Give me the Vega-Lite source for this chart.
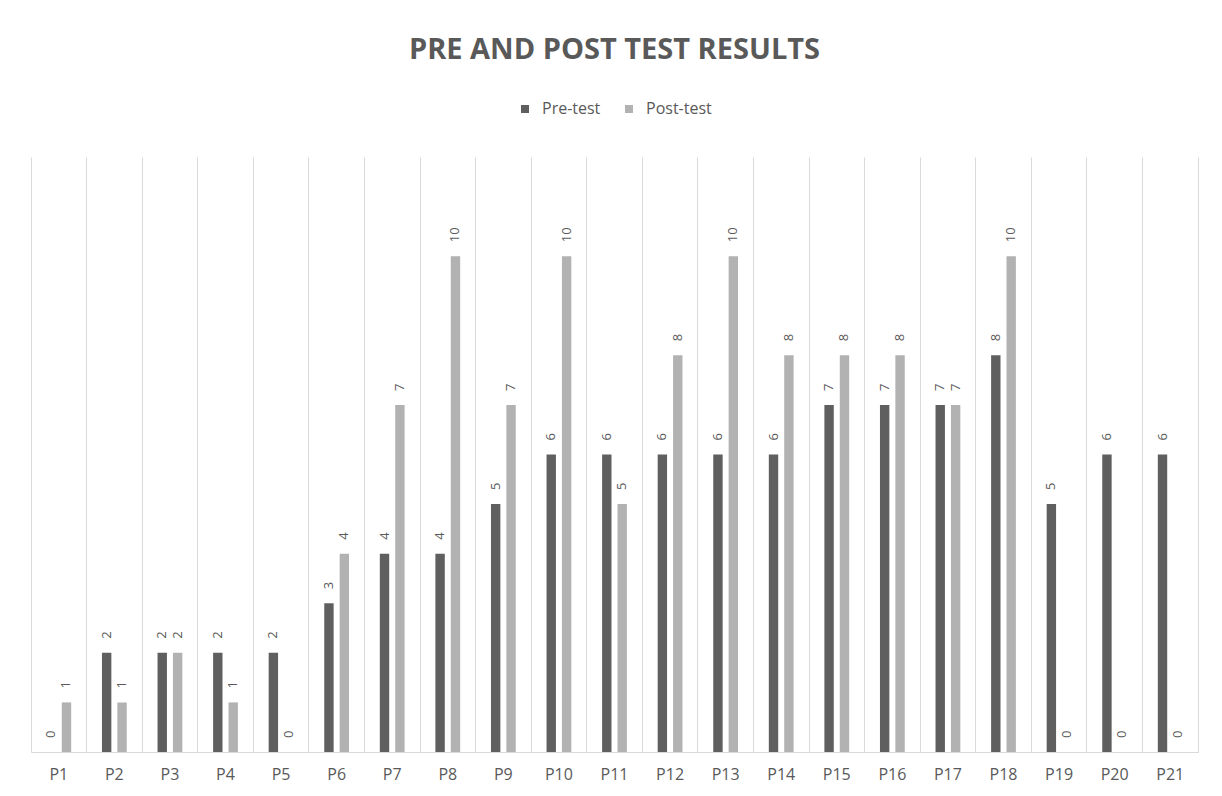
{
  "$schema": "https://vega.github.io/schema/vega-lite/v6.json",
  "width": 1167,
  "height": 595,
  "autosize": {"type": "none"},
  "padding": {"left": 31, "top": 157, "right": 24, "bottom": 44},
  "background": "white",
  "title": {
    "text": "PRE AND POST TEST RESULTS",
    "fontSize": 29,
    "font": "Open Sans",
    "fontWeight": "bold",
    "color": "#595959",
    "anchor": "middle",
    "offset": 36
  },
  "config": {
    "view": {"stroke": null},
    "legend": {"layout": {"top": {"anchor": "middle"}}}
  },
  "data": {
    "values": [
      {"p": "P1", "test": "Pre-test", "score": 0}, {"p": "P1", "test": "Post-test", "score": 1},
      {"p": "P2", "test": "Pre-test", "score": 2}, {"p": "P2", "test": "Post-test", "score": 1},
      {"p": "P3", "test": "Pre-test", "score": 2}, {"p": "P3", "test": "Post-test", "score": 2},
      {"p": "P4", "test": "Pre-test", "score": 2}, {"p": "P4", "test": "Post-test", "score": 1},
      {"p": "P5", "test": "Pre-test", "score": 2}, {"p": "P5", "test": "Post-test", "score": 0},
      {"p": "P6", "test": "Pre-test", "score": 3}, {"p": "P6", "test": "Post-test", "score": 4},
      {"p": "P7", "test": "Pre-test", "score": 4}, {"p": "P7", "test": "Post-test", "score": 7},
      {"p": "P8", "test": "Pre-test", "score": 4}, {"p": "P8", "test": "Post-test", "score": 10},
      {"p": "P9", "test": "Pre-test", "score": 5}, {"p": "P9", "test": "Post-test", "score": 7},
      {"p": "P10", "test": "Pre-test", "score": 6}, {"p": "P10", "test": "Post-test", "score": 10},
      {"p": "P11", "test": "Pre-test", "score": 6}, {"p": "P11", "test": "Post-test", "score": 5},
      {"p": "P12", "test": "Pre-test", "score": 6}, {"p": "P12", "test": "Post-test", "score": 8},
      {"p": "P13", "test": "Pre-test", "score": 6}, {"p": "P13", "test": "Post-test", "score": 10},
      {"p": "P14", "test": "Pre-test", "score": 6}, {"p": "P14", "test": "Post-test", "score": 8},
      {"p": "P15", "test": "Pre-test", "score": 7}, {"p": "P15", "test": "Post-test", "score": 8},
      {"p": "P16", "test": "Pre-test", "score": 7}, {"p": "P16", "test": "Post-test", "score": 8},
      {"p": "P17", "test": "Pre-test", "score": 7}, {"p": "P17", "test": "Post-test", "score": 7},
      {"p": "P18", "test": "Pre-test", "score": 8}, {"p": "P18", "test": "Post-test", "score": 10},
      {"p": "P19", "test": "Pre-test", "score": 5}, {"p": "P19", "test": "Post-test", "score": 0},
      {"p": "P20", "test": "Pre-test", "score": 6}, {"p": "P20", "test": "Post-test", "score": 0},
      {"p": "P21", "test": "Pre-test", "score": 6}, {"p": "P21", "test": "Post-test", "score": 0}
    ]
  },
  "encoding": {
    "x": {
      "field": "p",
      "type": "nominal",
      "sort": null,
      "scale": {"paddingInner": 0, "paddingOuter": 0},
      "axis": {
        "title": null,
        "orient": "bottom",
        "domainColor": "#d9d9d9",
        "ticks": false,
        "grid": true,
        "gridColor": "#d9d9d9",
        "bandPosition": 0,
        "labelAngle": 0,
        "labelFontSize": 16,
        "labelFont": "Open Sans",
        "labelColor": "#595959",
        "labelPadding": 14
      }
    },
    "xOffset": {
      "field": "test",
      "type": "nominal",
      "sort": ["Pre-test", "Post-test"],
      "scale": {"paddingInner": 0.39, "paddingOuter": 1.18}
    },
    "y": {
      "field": "score",
      "type": "quantitative",
      "scale": {"domain": [0, 12]},
      "axis": {
        "orient": "right",
        "title": null,
        "labels": false,
        "ticks": false,
        "grid": false,
        "domain": true,
        "domainColor": "#d9d9d9"
      }
    }
  },
  "layer": [
    {
      "mark": {"type": "bar"},
      "encoding": {
        "color": {
          "field": "test",
          "type": "nominal",
          "scale": {"domain": ["Pre-test", "Post-test"], "range": ["#5f5f5f", "#b2b2b2"]},
          "legend": {
            "orient": "top",
            "direction": "horizontal",
            "title": null,
            "symbolType": "square",
            "symbolSize": 64,
            "symbolStrokeWidth": 0,
            "labelFontSize": 16,
            "labelFont": "Open Sans",
            "labelColor": "#595959",
            "offset": 40,
            "columnPadding": 20,
            "labelOffset": 9
          }
        }
      }
    },
    {
      "mark": {
        "type": "text",
        "angle": 270,
        "align": "left",
        "baseline": "middle",
        "dx": 14,
        "fontSize": 13,
        "font": "Open Sans",
        "color": "#595959"
      },
      "encoding": {"text": {"field": "score", "type": "quantitative"}}
    }
  ]
}
